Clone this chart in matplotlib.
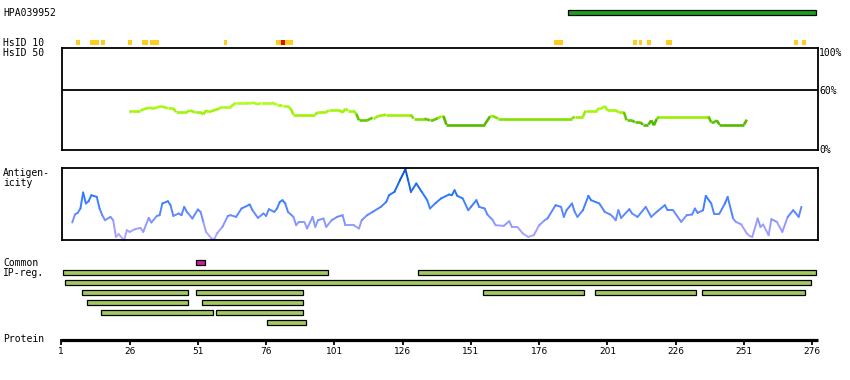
import numpy as np
import matplotlib
matplotlib.use("Agg")
import matplotlib.pyplot as plt
from matplotlib.collections import LineCollection
from matplotlib.colors import LinearSegmentedColormap, Normalize
from matplotlib.patches import Rectangle

# ---------------- data ----------------
antibody_name = "HPA039952"
antibody_start, antibody_end = 187, 277
protein_length = 277
tick_labels = [1, 26, 51, 76, 101, 126, 151, 176, 201, 226, 251, 276]

hsid10_start = [6.4, 11.5, 15.5, 25.4, 30.5, 33.5, 60.6, 79.6, 81.4, 82.9,
                181.4, 210.3, 212.5, 215.5, 222.4, 269.3, 272.2]
hsid10_end = [7.8, 14.8, 17.0, 26.9, 32.7, 36.8, 61.7, 81.4, 82.9, 85.8,
              184.7, 211.8, 213.6, 217.0, 224.6, 270.7, 273.7]
hsid10_level = ["y", "y", "y", "y", "y", "y", "y", "y", "r", "y",
                "y", "y", "y", "y", "y", "y", "y"]

ident_res = [26, 27, 30, 31, 33, 35, 36, 38, 40, 42, 43, 47, 48, 50, 52, 53, 54, 55, 59, 60,
             63, 65, 69, 70, 71, 73, 74, 78, 80, 81, 82, 84, 85, 86, 94, 95, 98, 99, 103, 104,
             105, 106, 108, 109, 110, 113, 115, 116, 117, 120, 129, 130, 134, 136, 137, 139, 140,
             141, 142, 156, 158, 159, 161, 188, 189, 192, 193, 197, 198, 199, 200, 201, 204, 205,
             207, 208, 210, 211, 213, 214, 216, 217, 218, 219, 220, 238, 239, 240, 241, 242, 251, 252]
ident_pct = [38, 39.7, 39.7, 41, 42.7, 41.7, 43.3, 44, 42, 42, 38.3, 38.3, 40, 38, 38, 36, 40, 38.3, 42, 43.7,
             43.7, 47.7, 47.7, 46.7, 48, 46, 47.7, 47.7, 45.7, 45.7, 44, 44, 41.7, 35.7, 35.7, 38.3, 38.3, 40, 40, 37.7,
             41.7, 39.7, 39.7, 36.7, 30, 30, 32.7, 32.7, 34.3, 35.7, 35.7, 31.7, 31.7, 30, 30, 32.3, 34,
             34, 25.7, 25.7, 34, 34.3, 31.7, 31.7, 33.7, 33.7, 39.7, 39.7, 42.3, 42.3, 44.3, 40, 40, 38.3,
             38.3, 30, 30, 28, 28, 25.7, 25.7, 30, 25, 31.3, 33.7, 33.7, 28, 28, 30, 25.7, 25.7, 30.7]

anti_res = [5, 6, 7, 8, 9, 10, 11, 12, 14, 15, 16, 17, 19, 20, 21, 22, 24, 25, 26, 28,
            30, 31, 33, 34, 36, 37, 38, 40, 41, 42, 44, 45, 46, 47, 49, 51, 52, 53, 54, 56,
            57, 58, 60, 62, 63, 65, 67, 70, 71, 73, 75, 76, 77, 79, 80, 81, 82, 83, 84, 86,
            87, 88, 90, 91, 93, 94, 95, 97, 98, 100, 102, 104, 105, 108, 110, 111, 113, 115, 118, 120,
            121, 123, 125, 127, 128, 129, 131, 133, 135, 136, 138, 140, 143, 144, 145, 146, 148, 150, 151, 153,
            154, 156, 157, 159, 160, 163, 165, 166, 168, 170, 172, 174, 176, 178, 179, 182, 184, 185, 186, 188,
            189, 190, 192, 194, 195, 198, 200, 202, 203, 204, 205, 206, 209, 210, 212, 215, 217, 219, 222, 223,
            225, 228, 230, 232, 233, 234, 236, 237, 239, 240, 242, 244, 245, 247, 248, 250, 252, 253, 254, 256,
            257, 258, 260, 261, 263, 265, 267, 269, 270, 271, 272]
anti_val = [17.7, 25.7, 27.3, 31.7, 47.7, 36.7, 39, 45, 43.3, 31.7, 25, 20, 23.3, 20, 3.3, 6, 0, 10, 8.3, 11,
            12.3, 8.3, 22.3, 17.7, 24.3, 25, 36.7, 39, 35, 24.3, 26.7, 25, 33.3, 28.3, 21.7, 30.7, 28.3, 18.3, 8.3, 1.7,
            1, 6.7, 13.3, 24.3, 25, 23.3, 31.7, 35.7, 30, 22.3, 26.7, 24.3, 31, 28.3, 31.7, 38.3, 40, 36.7, 28.3, 23.3,
            15, 18.3, 18.3, 11.7, 23.3, 13.3, 20, 21.7, 13.3, 20, 23.3, 25, 15, 15, 11.7, 20, 25, 28.3, 33.3, 38.3,
            45, 48.3, 60, 71, 60, 48.3, 56.7, 48.3, 40, 31.7, 37, 41.7, 45.7, 45, 50, 44.3, 41.7, 30, 33.3, 40,
            33.3, 31.7, 25.7, 20, 15, 14.3, 19, 13.3, 13.3, 6.7, 3.3, 5, 15, 20, 21.7, 35, 33.3, 23.3, 30, 36.7,
            28.3, 23.3, 30, 44.3, 40, 36.7, 28.3, 25.7, 23.3, 20, 30, 22.3, 31, 26.7, 23.3, 33.3, 23.3, 28.3, 35, 30,
            30, 18.3, 25, 25.7, 31.7, 27.3, 30, 44.3, 36.7, 26.7, 26.7, 36.7, 43.3, 21.7, 18.3, 15.7, 6.7, 4.3, 3.3, 21.7,
            13.3, 15.7, 5, 21, 18.3, 8.3, 23.3, 30, 26.7, 23.3, 33.3]

common_start, common_end = [51], [53]
ip_row = [1, 1, 2, 3, 3, 3, 3, 3, 4, 4, 5, 5, 6]
ip_start = [2, 132, 3, 9, 51, 156, 197, 236, 11, 53, 16, 58, 77]
ip_end = [98, 277, 275, 47, 89, 192, 233, 273, 47, 89, 56, 89, 90]

# ---------------- layout ----------------
W, H = 850, 380
X0, SCALE = 61.3, 2.731


def px2res(px):
    return (px - X0) / SCALE + 1


fig = plt.figure(figsize=(W / 100, H / 100), dpi=100)
FONT = "DejaVu Sans Mono"

ov = fig.add_axes([0, 0, 1, 1])
ov.set_xlim(px2res(0), px2res(W))
ov.set_ylim(H, 0)
ov.axis("off")

LEFT, RIGHT = 61.5, 817.8


def panel(top, bottom, ylim):
    a = fig.add_axes([LEFT / W, 1 - bottom / H, (RIGHT - LEFT) / W, (bottom - top) / H])
    a.set_xlim(px2res(LEFT), px2res(RIGHT))
    a.set_ylim(*ylim)
    a.set_xticks([])
    a.set_yticks([])
    a.patch.set_alpha(0)
    for s in a.spines.values():
        s.set_linewidth(1.3)
        s.set_color("black")
    return a


# antibody bar
ov.add_patch(Rectangle((antibody_start - 0.5, 9.8), antibody_end - antibody_start + 1, 4.9,
                       facecolor="#1e9e1e", edgecolor="black", lw=0.9))
ov.text(px2res(3), 13, antibody_name, fontsize=7, family=FONT, va="center", ha="left")

# HsID 10 marks
for s, e, lv in zip(hsid10_start, hsid10_end, hsid10_level):
    ov.add_patch(Rectangle((s, 40), e - s, 5.3, facecolor="#ffcc22" if lv == "y" else "#dd1100",
                           edgecolor="none"))
ov.text(px2res(3), 42.5, "HsID 10", fontsize=7, family=FONT, va="center", ha="left")
ov.text(px2res(3), 52.5, "HsID 50", fontsize=7, family=FONT, va="center", ha="left")

# identity panel
ida = panel(48.5, 150.2, (0, 102.2))
ida.axhline(60, color="black", lw=1.3)
pts = np.column_stack([ident_res, ident_pct])
segs = np.stack([pts[:-1], pts[1:]], axis=1)
seg_val = np.minimum(np.array(ident_pct[:-1]), np.array(ident_pct[1:]))
icmap = LinearSegmentedColormap.from_list("ident", [(0, "#55b800"), (0.22, "#66cc00"),
                                                    (0.3, "#99ee00"), (1, "#b5ff22")])
lc = LineCollection(segs, cmap=icmap, norm=Normalize(25, 50), linewidths=1.9, capstyle="butt")
lc.set_array(seg_val)
ida.add_collection(lc)
for lab, yp in [("100%", 52.5), ("60%", 91), ("0%", 150)]:
    ov.text(px2res(819), yp, lab, fontsize=7, family=FONT, va="center", ha="left")

# antigenicity panel
ana = panel(168.3, 240.2, (0, 71.9))
pts = np.column_stack([anti_res, anti_val])
segs = np.stack([pts[:-1], pts[1:]], axis=1)
seg_val = (np.array(anti_val[:-1]) + np.array(anti_val[1:])) / 2
acmap = LinearSegmentedColormap.from_list("anti", [(0, "#b4a8ff"), (0.2, "#9a9cff"),
                                                   (0.38, "#5c88ff"), (0.6, "#2f7bff"),
                                                   (1, "#0050c8")])
lc = LineCollection(segs, cmap=acmap, norm=Normalize(0, 71), linewidths=1.4, capstyle="round")
lc.set_array(seg_val)
lc.set_clip_on(False)
ana.add_collection(lc)
ov.text(px2res(3), 173.5, "Antigen-", fontsize=7, family=FONT, va="center", ha="left")
ov.text(px2res(3), 183, "icity", fontsize=7, family=FONT, va="center", ha="left")

# common / IP-reg
ov.text(px2res(3), 263, "Common", fontsize=7, family=FONT, va="center", ha="left")
ov.text(px2res(3), 273.5, "IP-reg.", fontsize=7, family=FONT, va="center", ha="left")
for s, e in zip(common_start, common_end):
    ov.add_patch(Rectangle((s - 0.5, 260), e - s + 1, 4.7, facecolor="#cc2299",
                           edgecolor="black", lw=0.9))
for r, s, e in zip(ip_row, ip_start, ip_end):
    ov.add_patch(Rectangle((s - 0.5, 260 + 10 * r), e - s + 1, 4.7, facecolor="#a3c862",
                           edgecolor="black", lw=0.9))

# protein axis
ov.text(px2res(3), 339.5, "Protein", fontsize=7, family=FONT, va="center", ha="left")
ov.plot([1, protein_length + 1], [339.5, 339.5], color="black", lw=2.3, solid_capstyle="butt")
ov.vlines(tick_labels, 339, 344.5, color="black", lw=1.3)
for t in tick_labels:
    ov.text(t, 351.5, str(t), fontsize=6.5, va="center", ha="center")

fig.savefig("out.png", dpi=100)
